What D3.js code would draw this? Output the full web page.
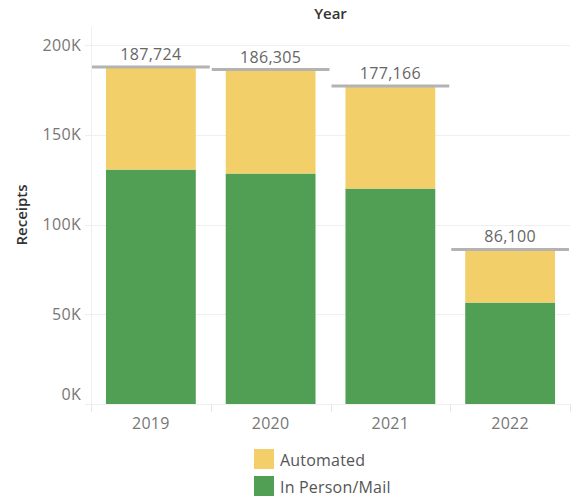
<!DOCTYPE html>
<html>
<head>
<meta charset="utf-8">
<script src="https://cdn.jsdelivr.net/npm/d3@7"></script>
<style>
  html, body { margin: 0; padding: 0; background: #fff; }
  svg { display: block; font-family: "Open Sans", "Noto Sans", sans-serif; }
</style>
</head>
<body>
<svg id="chart" width="579" height="500"></svg>
<script>
// Receipts by year, split into in-person/mail and automated
const years = ["2019", "2020", "2021", "2022"];
const inPersonMail = [130600, 128400, 120000, 56500];
const totals = [187724, 186305, 177166, 86100];
const automated = totals.map((t, i) => t - inPersonMail[i]);
const seriesNames = ["Automated", "In Person/Mail"];
const seriesColors = ["#f2cf69", "#519f55"];
const yTicks = [0, 50000, 100000, 150000, 200000];

const svg = d3.select("#chart");
const margin = { left: 91, right: 9, top: 45, bottom: 96 };
const W = 579, H = 500;
const labelSize = 16;

const x = d3.scaleBand()
  .domain(years)
  .range([margin.left, W - margin.right])
  .paddingInner(0.25)
  .paddingOuter(0.125);

const y = d3.scaleLinear()
  .domain([0, 200000])
  .range([H - margin.bottom, margin.top]);

// gridlines
svg.append("g")
  .selectAll("line")
  .data(yTicks)
  .join("line")
  .attr("x1", margin.left - 6)
  .attr("x2", W - margin.right)
  .attr("y1", d => Math.round(y(d)) + 0.5)
  .attr("y2", d => Math.round(y(d)) + 0.5)
  .attr("stroke", "#efefef")
  .attr("stroke-width", 1);

// vertical axis line
svg.append("line")
  .attr("x1", margin.left + 0.5).attr("x2", margin.left + 0.5)
  .attr("y1", 27).attr("y2", H - margin.bottom + 8)
  .attr("stroke", "#efefef");

// category separators on the x axis
const step = x.step();
const edges = years.map(d => x(d) - x.paddingOuter() * step).concat([W - margin.right]);
svg.append("g")
  .selectAll("line")
  .data(edges)
  .join("line")
  .attr("x1", d => Math.round(d) + 0.5)
  .attr("x2", d => Math.round(d) + 0.5)
  .attr("y1", H - margin.bottom)
  .attr("y2", H - margin.bottom + 8)
  .attr("stroke", "#e8e8e8");

// y tick labels (the bottom one is kept above the axis)
svg.append("g")
  .selectAll("text")
  .data(yTicks)
  .join("text")
  .attr("x", margin.left - 10)
  .attr("y", d => Math.min(y(d), H - margin.bottom - 10))
  .attr("dy", "0.35em")
  .attr("text-anchor", "end")
  .attr("fill", "#777")
  .attr("font-size", labelSize)
  .attr("letter-spacing", 0.3)
  .text(d => d3.format("d")(d / 1000) + "K");

// x tick labels
svg.append("g")
  .selectAll("text")
  .data(years)
  .join("text")
  .attr("x", d => x(d) + x.bandwidth() / 2)
  .attr("y", H - margin.bottom + 19)
  .attr("dy", "0.35em")
  .attr("text-anchor", "middle")
  .attr("fill", "#777")
  .attr("font-size", labelSize)
  .attr("letter-spacing", 0.3)
  .text(d => d);

// stacked bars
const rows = years.map((yr, i) => ({ year: yr, "In Person/Mail": inPersonMail[i], "Automated": automated[i] }));
const stack = d3.stack().keys(["In Person/Mail", "Automated"])(rows);
const colorOf = d3.scaleOrdinal().domain(seriesNames).range(seriesColors);

svg.append("g")
  .selectAll("g")
  .data(stack)
  .join("g")
  .attr("fill", s => colorOf(s.key))
  .selectAll("rect")
  .data(s => s)
  .join("rect")
  .attr("x", d => x(d.data.year))
  .attr("width", x.bandwidth())
  .attr("y", d => y(d[1]))
  .attr("height", d => y(d[0]) - y(d[1]));

// total reference lines
svg.append("g")
  .selectAll("line")
  .data(years)
  .join("line")
  .attr("x1", d => x(d) - x.paddingOuter() * step + 1)
  .attr("x2", d => x(d) + x.bandwidth() + x.paddingOuter() * step - 1)
  .attr("y1", (d, i) => y(totals[i]))
  .attr("y2", (d, i) => y(totals[i]))
  .attr("stroke", "#b3b3b3")
  .attr("stroke-width", 3);

// total labels
svg.append("g")
  .selectAll("text")
  .data(years)
  .join("text")
  .attr("x", d => x(d) + x.bandwidth() / 2)
  .attr("y", (d, i) => y(totals[i]) - 7)
  .attr("text-anchor", "middle")
  .attr("fill", "#666")
  .attr("font-size", labelSize)
  .attr("letter-spacing", 0.3)
  .text((d, i) => d3.format(",")(totals[i]));

// axis titles
svg.append("text")
  .attr("x", (margin.left + W - margin.right) / 2)
  .attr("y", 19)
  .attr("text-anchor", "middle")
  .attr("fill", "#333")
  .attr("font-size", 15)
  .attr("font-weight", 600)
  .text("Year");

svg.append("text")
  .attr("transform", "translate(27,215) rotate(-90)")
  .attr("text-anchor", "middle")
  .attr("fill", "#333")
  .attr("font-size", 15)
  .attr("font-weight", 600)
  .text("Receipts");

// legend
const legend = svg.append("g").attr("transform", "translate(254,449)");
const items = legend.selectAll("g")
  .data(seriesNames)
  .join("g")
  .attr("transform", (d, i) => `translate(0,${i * 27})`);
items.append("rect")
  .attr("width", 20).attr("height", 20)
  .attr("fill", d => colorOf(d));
items.append("text")
  .attr("x", 26).attr("y", 11)
  .attr("dy", "0.35em")
  .attr("fill", "#555")
  .attr("font-size", labelSize)
  .attr("letter-spacing", 0.2)
  .text(d => d);
</script>
</body>
</html>
